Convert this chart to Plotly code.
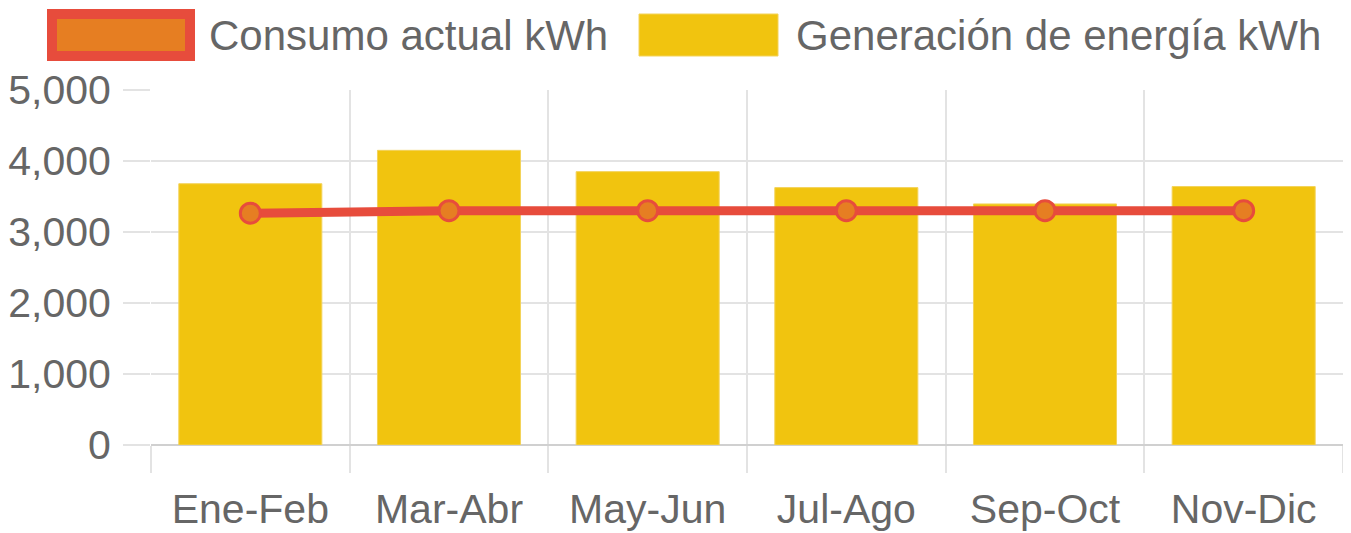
import plotly.graph_objects as go

categories = ["Ene-Feb", "Mar-Abr", "May-Jun", "Jul-Ago", "Sep-Oct", "Nov-Dic"]
generacion = [3680, 4150, 3850, 3625, 3395, 3640]
consumo = [3265, 3300, 3300, 3300, 3300, 3300]
y_ticks = [0, 1000, 2000, 3000, 4000, 5000]

# page is 1351x533; the html body adds an 8px margin
OFF = 8
W, H = 1351 - OFF, 533 - OFF
L, R, T, B = 151 - OFF, 1343 - OFF, 90 - OFF, 445 - OFF

FONT = "Liberation Sans, Arial, Helvetica, sans-serif"
FS = 41
GRAY = "#666666"
GRID = "#e3e3e3"
RED = "#e74c3c"
ORANGE = "#e67e22"
YELLOW = "#f1c40f"

def px(x):
    return (x - OFF - L) / (R - L)

def py(y):
    return (B - (y - OFF)) / (B - T)

fig = go.Figure()
fig.add_trace(go.Bar(
    x=categories, y=generacion, name="Generación de energía kWh",
    marker=dict(color=YELLOW, line=dict(color="#f3d35a", width=1)),
    width=0.72, showlegend=False,
))
fig.add_trace(go.Scatter(
    x=categories, y=consumo, name="Consumo actual kWh", mode="lines+markers",
    line=dict(color=RED, width=9),
    marker=dict(size=20, color=ORANGE, line=dict(color=RED, width=3)),
    showlegend=False,
))

shapes = [
    dict(type="rect", xref="paper", yref="paper",
         x0=px(52), x1=px(190), y0=py(56), y1=py(14),
         fillcolor=ORANGE, line=dict(color=RED, width=10)),
    dict(type="rect", xref="paper", yref="paper",
         x0=px(639), x1=px(778), y0=py(56), y1=py(14),
         fillcolor=YELLOW, line=dict(color="#f3d35a", width=1)),
]
annotations = [
    dict(text="Consumo actual kWh", xref="paper", yref="paper",
         x=px(207), y=py(36), xanchor="left", yanchor="middle", showarrow=False,
         font=dict(family=FONT, size=42, color=GRAY)),
    dict(text="Generación de energía kWh", xref="paper", yref="paper",
         x=px(794), y=py(36), xanchor="left", yanchor="middle", showarrow=False,
         font=dict(family=FONT, size=42, color=GRAY)),
]

fig.update_layout(
    width=W, height=H,
    margin=dict(l=L, r=W - R, t=T, b=H - B, pad=0, autoexpand=False),
    paper_bgcolor="white", plot_bgcolor="white",
    shapes=shapes, annotations=annotations,
    font=dict(family=FONT, size=FS, color=GRAY),
    bargap=0.28,
)
fig.update_xaxes(
    type="category", tickson="boundaries", ticks="outside", ticklen=27,
    tickcolor=GRID, tickwidth=2, showgrid=True, gridcolor=GRID, gridwidth=2,
    tickfont=dict(family=FONT, size=FS, color=GRAY), ticklabelstandoff=36,
    showline=False, zeroline=False, range=[-0.5, 5.5], automargin=False,
)
fig.update_yaxes(
    range=[0, 5000], tickvals=y_ticks, tickformat=",", ticks="outside", ticklen=27,
    tickcolor=GRID, tickwidth=2, showgrid=True, gridcolor=GRID, gridwidth=2,
    zeroline=True, zerolinecolor="#d0d0d0", zerolinewidth=2,
    tickfont=dict(family=FONT, size=FS, color=GRAY), ticklabelstandoff=4,
    showline=False, automargin=False,
)

fig.write_html("out.html")
